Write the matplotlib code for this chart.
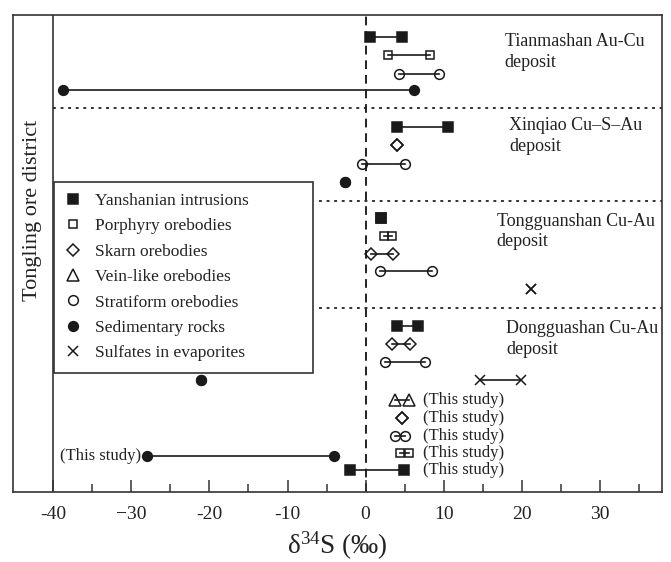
import matplotlib
matplotlib.use("Agg")
import matplotlib.pyplot as plt
from matplotlib.lines import Line2D

plt.rcParams['font.family'] = ['Liberation Serif', 'DejaVu Serif']
plt.rcParams['mathtext.fontset'] = 'custom'
plt.rcParams['mathtext.rm'] = 'Liberation Serif'
plt.rcParams['mathtext.it'] = 'Liberation Serif:italic'

# ---------------- data ----------------
categories = ["Yanshanian intrusions", "Porphyry orebodies", "Skarn orebodies",
              "Vein-like orebodies", "Stratiform orebodies", "Sedimentary rocks",
              "Sulfates in evaporites"]
cat_keys = ["yan", "por", "ska", "vei", "str", "sed", "sul"]

deposit_names = ["Tianmashan Au-Cu\ndeposit", "Xinqiao Cu\u2013S\u2013Au\ndeposit",
                 "Tongguanshan Cu-Au\ndeposit", "Dongguashan Cu-Au\ndeposit"]

# delta34S ranges (per mil) for each row, top to bottom
row_type = ["yan", "por", "str", "sed",
            "yan", "ska", "str", "sed",
            "yan", "por", "ska", "str", "sul",
            "yan", "ska", "str", "sed", "sul",
            "vei", "ska", "str", "por", "sed", "yan"]
row_min = [0.6, 2.9, 4.3, -38.7,
           4.05, 4.05, -0.4, -2.6,
           2.0, 2.4, 0.7, 1.9, 21.2,
           4.05, 3.4, 2.5, -21.1, 14.7,
           3.8, 4.7, 3.7, 4.35, -28.0, -2.05]
row_max = [4.6, 8.2, 9.4, 6.2,
           10.6, 4.05, 5.1, -2.6,
           2.0, 3.4, 3.5, 8.5, 21.2,
           6.7, 5.7, 7.55, -21.1, 19.9,
           5.6, 4.7, 5.0, 5.5, -4.0, 4.9]
row_this_study = [False] * 18 + [True] * 6

tick_values = [-40, -30, -20, -10, 0, 10, 20, 30]
tick_labels = ["-40", "\u221230", "-20", "-10", "0", "10", "20", "30"]
minor_values = [-35, -25, -15, -5, 5, 15, 25, 35]

# ---------------- layout (vertical row positions, px from top) ----------------
row_y = [37.5, 55.3, 74, 90.3,
         126.7, 145, 164, 182.3,
         218.3, 236, 254, 271, 289,
         326, 344, 362.3, 380, 380,
         400, 418.3, 435.7, 453.3, 456, 470]
deposit_label_pos = [(17.8, 52), (18.4, 136), (16.8, 231.5), (18.0, 339)]
separator_y = [108.5, 201, 308]
separator_x0 = [-40, -6, -6]

styles = {
    "yan": dict(marker="s", ms=6.5, mfc="#1a1a1a", mec="#1a1a1a"),
    "por": dict(marker="s", ms=6.0, mfc="none", mec="#1a1a1a"),
    "ska": dict(marker="D", ms=6.3, mfc="none", mec="#1a1a1a"),
    "vei": dict(marker="^", ms=8.0, mfc="none", mec="#1a1a1a"),
    "str": dict(marker="o", ms=7.0, mfc="none", mec="#1a1a1a"),
    "sed": dict(marker="o", ms=7.0, mfc="#1a1a1a", mec="#1a1a1a"),
    "sul": dict(marker="x", ms=7.5, mfc="none", mec="#1a1a1a"),
}

fig = plt.figure(figsize=(6.71, 5.62), dpi=100)
ax = fig.add_axes([13.3 / 671, (562 - 491.7) / 562, 648.4 / 671, 477 / 562])
ax.set_xlim(-45.1, 37.9)
ax.set_ylim(491.7, 14.7)

# zero line and district separator
ax.axvline(0, color="#222222", lw=1.4, ls=(0, (4.5, 3)), zorder=1)
ax.axvline(-40, color="#333333", lw=1.2, zorder=1)
for yy, x0 in zip(separator_y, separator_x0):
    ax.plot([x0, 37.9], [yy, yy], color="#222222", lw=1.3, ls=(0, (1.6, 2.6)), zorder=1)

for t, lo, hi, y in zip(row_type, row_min, row_max, row_y):
    st = styles[t]
    ax.plot([lo, hi], [y, y], color="#1a1a1a", lw=1.2, mew=1.1,
            marker=st["marker"], ms=st["ms"], mfc=st["mfc"], mec=st["mec"], zorder=3)

for (x, y), name in zip(deposit_label_pos, deposit_names):
    ax.text(x, y, name, ha="left", va="center", fontsize=13, linespacing=1.25, color="#222222")

for t, lo, hi, y, ts in zip(row_type, row_min, row_max, row_y, row_this_study):
    if ts:
        if t == "sed":
            ax.text(lo - 0.8, y, "(This study)", ha="right", va="center", fontsize=12, color="#222222")
        else:
            ax.text(7.3, y, "(This study)", ha="left", va="center", fontsize=12, color="#222222")

ax.text(-42.6, 210, "Tongling ore district", rotation=90, ha="center", va="center",
        fontsize=16, color="#222222")

# axes styling
for s in ax.spines.values():
    s.set_color("#333333")
    s.set_linewidth(1.2)
ax.set_xticks(tick_values)
ax.set_xticklabels(tick_labels, fontsize=14, color="#222222")
ax.set_xticks(minor_values, minor=True)
ax.tick_params(axis="x", which="major", direction="in", length=8.5, width=1.1, pad=10, color="#333333")
ax.tick_params(axis="x", which="minor", direction="in", length=5.5, width=1.1, color="#333333")
ax.set_yticks([])
ax.set_xlabel("\u03b4$^{34}$S (\u2030)", fontsize=19.5, labelpad=5, color="#222222")

handles = []
for k in cat_keys:
    st = styles[k]
    handles.append(Line2D([], [], ls="none", marker=st["marker"], ms=st["ms"],
                          mfc=st["mfc"], mec=st["mec"], mew=1.1))
x0 = (54 - 13.3) / 648.4
x1 = (312.7 - 13.3) / 648.4
y1 = (491.7 - 181.7) / 477
y0 = (491.7 - 368.3) / 477
leg = ax.legend(handles, categories, loc="upper left", bbox_to_anchor=(x0, y0, x1 - x0, y1 - y0),
                mode="expand", borderaxespad=0, fancybox=False, framealpha=1, edgecolor="#333333",
                fontsize=12.5, handlelength=0.9, handletextpad=0.8, labelspacing=0.53,
                borderpad=0.65)
leg.get_frame().set_linewidth(1.2)
leg.set_zorder(5)
for txt in leg.get_texts():
    txt.set_color("#222222")

fig.savefig("out.png", dpi=100)
